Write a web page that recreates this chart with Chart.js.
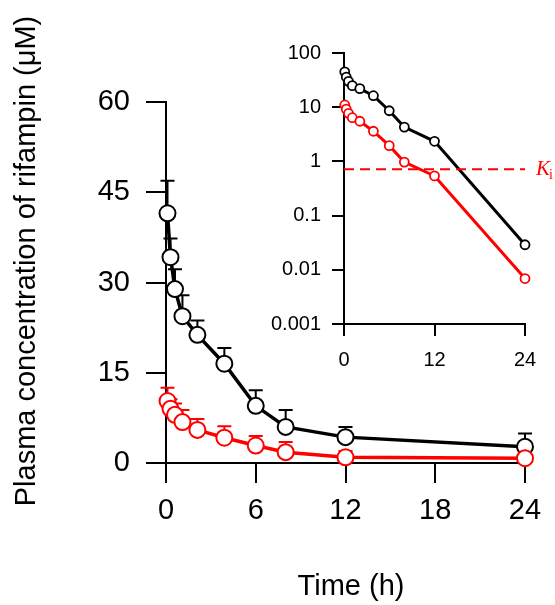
<!DOCTYPE html>
<html>
<head>
<meta charset="utf-8">
<script src="https://cdn.jsdelivr.net/npm/chart.js@4"></script>
<style>
  body { margin: 0; background: #fff; }
  #wrap { position: relative; width: 555px; height: 605px; }
  #mainChart { position: absolute; left: 0; top: 0; }
  #insetChart { position: absolute; left: 270px; top: 20px; }
</style>
</head>
<body>
<div id="wrap">
  <canvas id="mainChart" width="555" height="605"></canvas>
  <canvas id="insetChart" width="285" height="360"></canvas>
</div>
<script>
// sampling times (h)
let times = [0.1, 0.3, 0.6, 1.1, 2.1, 3.9, 6, 8, 12, 24];

// main plot (linear), mean and SD
let mainBlack = [41.5, 34.2, 28.9, 24.4, 21.3, 16.5, 9.5, 6.0, 4.3, 2.7];
let mainBlackSD = [5.4, 3.1, 3.3, 3.5, 2.4, 2.6, 2.6, 2.8, 1.7, 2.2];
let mainRed = [10.3, 9.0, 8.0, 6.8, 5.5, 4.2, 2.9, 1.8, 0.95, 0.8];
let mainRedSD = [2.2, 1.6, 1.9, 2.0, 1.8, 1.9, 1.6, 1.7, 1.05, 1.9];

// inset (log)
let insetBlack = [45, 36, 30, 25, 22, 16.3, 8.6, 4.3, 2.35, 0.029];
let insetRed = [11, 9.2, 7.7, 6.4, 5.5, 3.6, 1.95, 0.97, 0.54, 0.0069];
let Ki = 0.72;

let mainXTicks = [0, 6, 12, 18, 24];
let mainYTicks = [0, 15, 30, 45, 60];
let insetXTicks = [0, 12, 24];
let insetYTicks = [0.001, 0.01, 0.1, 1, 10, 100];
let insetYTickLabels = ['0.001', '0.01', '0.1', '1', '10', '100'];

let xTitle = 'Time (h)';
let yTitle = 'Plasma concentration of rifampin (\u03bcM)';

const FONT = 'Liberation Sans, Arial, Helvetica, sans-serif';
const SERIF = 'Liberation Serif, Times New Roman, serif';
const RED = '#ff0000';

function pts(ys) {
    return times.map((t, i) => ({ x: t, y: ys[i] }));
}

// upward error bars with caps
const errorBars = {
    id: 'errorBars',
    beforeDatasetsDraw(chart) {
        const ctx = chart.ctx;
        const xs = chart.scales.x, ys = chart.scales.y;
        chart.data.datasets.forEach(ds => {
            if (!ds.sd) return;
            ctx.save();
            ctx.strokeStyle = ds.borderColor;
            ctx.lineWidth = 2;
            ds.data.forEach((p, i) => {
                const px = xs.getPixelForValue(p.x);
                const y0 = ys.getPixelForValue(p.y);
                const y1 = ys.getPixelForValue(p.y + ds.sd[i]);
                ctx.beginPath();
                ctx.moveTo(px, y0);
                ctx.lineTo(px, y1);
                ctx.moveTo(px - 7, y1);
                ctx.lineTo(px + 7, y1);
                ctx.stroke();
            });
            ctx.restore();
        });
    }
};

// axis titles placed like the figure
const axisTitles = {
    id: 'axisTitles',
    afterDraw(chart) {
        const ctx = chart.ctx;
        ctx.save();
        ctx.fillStyle = '#000';
        ctx.font = '29px ' + FONT;
        ctx.textAlign = 'center';
        ctx.textBaseline = 'middle';
        ctx.fillText(xTitle, 351, 587);
        ctx.translate(27, 261);
        ctx.rotate(-Math.PI / 2);
        ctx.fillText(yTitle, 0, 0);
        ctx.restore();
    }
};

// K_i label at the end of the dashed line
const kiLabel = {
    id: 'kiLabel',
    afterDraw(chart) {
        const ctx = chart.ctx;
        const y = chart.scales.y.getPixelForValue(Ki);
        const x = chart.chartArea.right + 11;
        ctx.save();
        ctx.fillStyle = RED;
        ctx.textBaseline = 'alphabetic';
        ctx.font = 'italic 21px ' + SERIF;
        ctx.fillText('K', x, y + 6);
        const w = ctx.measureText('K').width;
        ctx.font = '14px ' + SERIF;
        ctx.fillText('i', x + w - 1, y + 10);
        ctx.restore();
    }
};

function axis(opts) {
    return Object.assign({
        grid: { drawOnChartArea: false, color: '#000', lineWidth: 2, tickLength: opts.tickLength },
        border: { color: '#000', width: 2 }
    }, opts.extra);
}

let mainConfig = {
    type: 'line',
    data: {
        datasets: [
            {
                label: 'black', data: pts(mainBlack), sd: mainBlackSD,
                borderColor: '#000', borderWidth: 3.5,
                pointRadius: 8, pointBorderWidth: 2, pointBackgroundColor: '#fff', pointBorderColor: '#000',
                clip: false, order: 1
            },
            {
                label: 'red', data: pts(mainRed), sd: mainRedSD,
                borderColor: RED, borderWidth: 3.5,
                pointRadius: 8, pointBorderWidth: 2, pointBackgroundColor: '#fff', pointBorderColor: RED,
                clip: false, order: 0
            }
        ]
    },
    options: {
        responsive: false, animation: false,
        layout: { padding: { left: 0, right: 30, top: 102, bottom: 0 } },
        plugins: { legend: { display: false }, tooltip: { enabled: false } },
        scales: {
            x: axis({
                tickLength: 20,
                extra: {
                    type: 'linear', min: 0, max: 24,
                    afterBuildTicks: s => { s.ticks = mainXTicks.map(v => ({ value: v })); },
                    ticks: { color: '#000', font: { family: FONT, size: 29 }, padding: 11, maxRotation: 0 },
                    afterFit: s => { s.height = 142; }
                }
            }),
            y: axis({
                tickLength: 20,
                extra: {
                    min: 0, max: 60,
                    afterBuildTicks: s => { s.ticks = mainYTicks.map(v => ({ value: v })); },
                    ticks: { color: '#000', font: { family: FONT, size: 29 }, padding: 16 },
                    afterFit: s => { s.width = 166; }
                }
            })
        }
    },
    plugins: [errorBars, axisTitles]
};

let insetConfig = {
    type: 'line',
    data: {
        datasets: [
            {
                label: 'black', data: pts(insetBlack),
                borderColor: '#000', borderWidth: 3,
                pointRadius: 4.5, pointBorderWidth: 1.8, pointBackgroundColor: '#fff', pointBorderColor: '#000',
                clip: false, order: 2
            },
            {
                label: 'red', data: pts(insetRed),
                borderColor: RED, borderWidth: 3,
                pointRadius: 4.5, pointBorderWidth: 1.8, pointBackgroundColor: '#fff', pointBorderColor: RED,
                clip: false, order: 1
            },
            {
                label: 'Ki', data: [{ x: 0, y: Ki }, { x: 24, y: Ki }],
                borderColor: RED, borderWidth: 2, borderDash: [10, 6],
                pointRadius: 0, clip: false, order: 0
            }
        ]
    },
    options: {
        responsive: false, animation: false,
        layout: { padding: { left: 0, right: 30, top: 33, bottom: 0 } },
        plugins: { legend: { display: false }, tooltip: { enabled: false } },
        scales: {
            x: axis({
                tickLength: 12,
                extra: {
                    type: 'linear', min: 0, max: 24,
                    afterBuildTicks: s => { s.ticks = insetXTicks.map(v => ({ value: v })); },
                    ticks: { color: '#000', font: { family: FONT, size: 20 }, padding: 12, maxRotation: 0 },
                    afterFit: s => { s.height = 56; }
                }
            }),
            y: axis({
                tickLength: 12,
                extra: {
                    type: 'logarithmic', min: 0.001, max: 100,
                    afterBuildTicks: s => { s.ticks = insetYTicks.map(v => ({ value: v })); },
                    ticks: { color: '#000', font: { family: FONT, size: 20 }, padding: 11,
                        callback: (v, i) => insetYTickLabels[i] },
                    afterFit: s => { s.width = 74; }
                }
            })
        }
    },
    plugins: [kiLabel]
};

new Chart(document.getElementById('mainChart'), mainConfig);
new Chart(document.getElementById('insetChart'), insetConfig);
</script>
</body>
</html>
